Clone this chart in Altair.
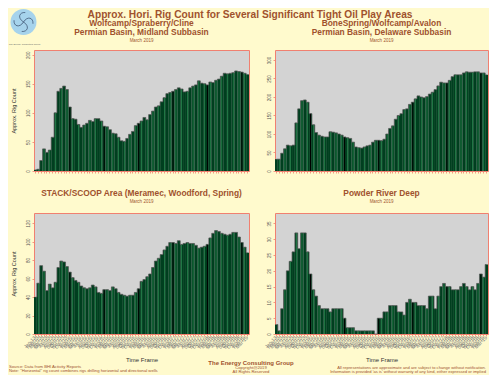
import altair as alt
import pandas as pd

FONT = "Liberation Sans"
BROWN = "#A0522D"
DARK = "#003F1F"
LIGHT = "#2F8F55"
RED = "#F08070"

MONTH_NAMES = ["Jan", "Feb", "Mar", "Apr", "May", "Jun", "Jul", "Aug", "Sep", "Oct", "Nov", "Dec"]
YEARS = ["13", "14", "15", "16", "17", "18", "19"]
MONTHS = [f"{m}-{y}" for y in YEARS for m in MONTH_NAMES][:75]

WOLFCAMP_MIDLAND = [2, 3, 18, 38, 32, 36, 58, 100, 137, 142,
                    146, 140, 110, 90, 89, 80, 75, 79, 82, 87,
                    85, 90, 90, 86, 77, 76, 71, 65, 64, 58,
                    52, 51, 56, 63, 68, 78, 82, 86, 92, 88,
                    97, 103, 110, 112, 119, 126, 133, 135, 137, 140,
                    143, 141, 136, 137, 143, 146, 148, 155, 151, 150,
                    148, 153, 152, 156, 158, 163, 168, 167, 168, 169,
                    172, 171, 170, 168, 166]
BONESPRING_DELAWARE = [32, 32, 48, 60, 70, 68, 70, 130, 168, 190,
                       192, 186, 155, 125, 104, 97, 94, 92, 92, 106,
                       105, 103, 100, 97, 92, 90, 88, 78, 65, 63,
                       62, 65, 68, 70, 78, 83, 83, 82, 86, 100,
                       115, 122, 140, 150, 155, 166, 168, 180, 186, 195,
                       203, 200, 198, 201, 208, 213, 220, 230, 240, 238,
                       238, 245, 255, 260, 260, 260, 265, 268, 267, 267,
                       268, 268, 265, 265, 260]
STACK_SCOOP = [40, 55, 74, 68, 47, 54, 50, 56, 72, 79,
               78, 73, 67, 61, 58, 56, 52, 50, 49, 50,
               53, 51, 45, 44, 48, 48, 47, 51, 49, 45,
               43, 42, 41, 42, 42, 45, 49, 57, 59, 62,
               65, 72, 79, 82, 86, 91, 95, 99, 99, 98,
               101, 97, 98, 99, 98, 98, 96, 93, 94, 95,
               97, 104, 109, 112, 111, 109, 108, 107, 108, 110,
               110, 105, 99, 94, 88]
POWDER_RIVER = [3, 1, 8, 14, 20, 23, 26, 32, 27, 32,
                32, 26, 19, 14, 12, 9, 8, 8, 8, 7,
                8, 8, 8, 8, 5, 2, 2, 2, 1, 1,
                1, 1, 1, 1, 1, 0, 5, 5, 7, 7,
                9, 9, 9, 7, 7, 6, 10, 11, 10, 10,
                9, 9, 9, 8, 12, 12, 8, 12, 15, 16,
                15, 15, 14, 14, 14, 15, 16, 15, 14, 15,
                14, 16, 19, 18, 22]

Y_TICKS_1 = [0, 50, 100, 150, 200]
Y_TICKS_2 = [0, 50, 100, 150, 200, 250, 300]
Y_TICKS_3 = [0, 20, 40, 60, 80, 100, 120]
Y_TICKS_4 = [0, 5, 10, 15, 20, 25, 30, 35]

MAIN_TITLE = "Approx. Hori. Rig Count for Several Significant Tight Oil Play Areas"
DATE_NOTE = "March 2019"
P1_TITLE = ["Wolfcamp/Spraberry/Cline", "Permian Basin, Midland Subbasin"]
P2_TITLE = ["BoneSpring/Wolfcamp/Avalon", "Permian Basin, Delaware Subbasin"]
P3_TITLE = "STACK/SCOOP Area (Meramec, Woodford, Spring)"
P4_TITLE = "Powder River Deep"
COMPANY = "The Energy Consulting Group"
SOURCE = "Source: Data from BHI Activity Reports"
NOTE = "Note: \"Horizontal\" rig count combines rigs drilling horizontal and directional wells"
COPYRIGHT = "Copyright@2019"
RIGHTS = "All Rights Reserved"
DISCLAIMER_1 = "All representations are approximate and are subject to change without notification."
DISCLAIMER_2 = "Information is provided 'as is' without warranty of any kind, either expressed or implied"

H = 121
SWIRL = ("M0,0 C0.35,-0.55 0.85,-0.35 0.8,0.15 M0,0 C-0.35,0.55 -0.85,0.35 -0.8,-0.15 "
         "M0,0 C0.55,0.35 0.35,0.85 -0.15,0.8 M0,0 C-0.55,-0.35 -0.35,-0.85 0.15,-0.8")


def label(text, x, y, size, weight="normal", align="center", color=BROWN):
    return alt.Chart(pd.DataFrame({"label": [text]})).mark_text(
        fontSize=size, fontWeight=weight, align=align, baseline="middle",
        color=color, font=FONT
    ).encode(x=alt.value(x), y=alt.value(y), text="label:N")


def panel(values, width, ymax, yticks, left, bottom, extras):
    df = pd.DataFrame({"month": MONTHS, "idx": list(range(len(MONTHS))), "rigs": values})
    if bottom:
        xaxis = alt.Axis(title="Time Frame", labelAngle=315, labelAlign="right",
                         labelBaseline="middle", labelFontSize=4.8, labelColor="#777777",
                         labelOverlap=False, labelPadding=1, tickSize=2,
                         titleFontSize=6, titleColor="#333333", titleFontWeight="normal",
                         titlePadding=4.5, minExtent=18, maxExtent=18)
    else:
        xaxis = alt.Axis(labels=False, title=None, tickSize=2)
    if left:
        yaxis = alt.Axis(values=yticks, title="Approx. Rig Count", labelAngle=270,
                         labelAlign="center", labelBaseline="bottom", labelFontSize=4.5,
                         labelColor="#555555", labelPadding=1.5, tickSize=2,
                         titleFontSize=5.5, titleColor="#333333", titleFontWeight="normal",
                         titlePadding=9.5, minExtent=8, maxExtent=8)
    else:
        yaxis = alt.Axis(values=yticks, title=None, labelAngle=270,
                         labelAlign="center", labelBaseline="bottom", labelFontSize=4.5,
                         labelColor="#555555", labelPadding=1.5, tickSize=2,
                         minExtent=8, maxExtent=8)
    xenc = alt.X("month:N", sort=MONTHS, axis=xaxis,
                 scale=alt.Scale(paddingInner=0, paddingOuter=0))
    yenc = alt.Y("rigs:Q", axis=yaxis, scale=alt.Scale(domain=[0, ymax], nice=False))
    base = alt.Chart(df)
    bars = base.mark_bar(color=DARK).encode(x=xenc, y=yenc)
    stripes = base.transform_filter("datum.idx % 2 == 1 && datum.idx % 12 != 0").mark_bar(
        color=LIGHT, size=0.7).encode(x=xenc, y=yenc)
    years = base.transform_filter("datum.idx % 12 == 0 && datum.idx > 0").mark_bar(
        color="#000000", size=1).encode(x=xenc, y=yenc)
    outline = base.mark_line(interpolate="step", color="#555555", strokeWidth=0.7).encode(
        x=xenc, y=yenc)
    return alt.layer(bars, stripes, years, outline, *extras).properties(width=width, height=H)


W1, W2 = 215, 213

logo = alt.Chart(pd.DataFrame({"label": [COMPANY]})).mark_point(
    shape="circle", filled=True, size=676, color="#A6D3EC", opacity=1
).encode(x=alt.value(-10.5), y=alt.value(-28))
swirl = alt.Chart(pd.DataFrame({"label": [COMPANY]})).mark_point(
    shape=SWIRL, filled=False, size=560, color="#203050", strokeWidth=0.6, opacity=1
).encode(x=alt.value(-10.5), y=alt.value(-28))

p1_extras = [
    logo, swirl,
    label(COMPANY, -9.5, -6.3, 2.4, color="#666666"),
    label(MAIN_TITLE, 216, -35.5, 10.2, weight="bold"),
    label(P1_TITLE[0], W1 / 2, -27, 8.4, weight="bold"),
    label(P1_TITLE[1], W1 / 2, -18, 8.4, weight="bold"),
    label(DATE_NOTE, W1 / 2, -9.5, 4.5),
]
p2_extras = [
    label(P2_TITLE[0], W2 / 2, -27, 8.4, weight="bold"),
    label(P2_TITLE[1], W2 / 2, -18, 8.4, weight="bold"),
    label(DATE_NOTE, W2 / 2, -9.5, 4.5),
]
p3_extras = [
    label(P3_TITLE, W1 / 2, -20.5, 8.4, weight="bold"),
    label(DATE_NOTE, W1 / 2, -11, 4.5),
    label(SOURCE, -25, 153.5, 4.2, align="left"),
    label(NOTE, -25, 157.8, 4.2, align="left"),
    label(COMPANY, 217, 149.5, 6, weight="bold"),
    label(COPYRIGHT, 217, 154.5, 4.2),
    label(RIGHTS, 217, 158.5, 4.2),
]
p4_extras = [
    label(P4_TITLE, W2 / 2, -20.5, 8.4, weight="bold"),
    label(DATE_NOTE, W2 / 2, -11, 4.5),
    label(DISCLAIMER_1, 211, 154.5, 4.1, align="right"),
    label(DISCLAIMER_2, 211, 158.5, 4.1, align="right"),
]

p1 = panel(WOLFCAMP_MIDLAND, W1, 208, Y_TICKS_1, True, False, p1_extras)
p2 = panel(BONESPRING_DELAWARE, W2, 327, Y_TICKS_2, False, False, p2_extras)
p3 = panel(STACK_SCOOP, W1, 131, Y_TICKS_3, True, True, p3_extras)
p4 = panel(POWDER_RIVER, W2, 38.3, Y_TICKS_4, False, True, p4_extras)

chart = alt.concat(
    p1, p2, p3, p4, columns=2,
    spacing=alt.RowColnumber(row=42, column=26), bounds="flush"
).properties(padding=0).configure(
    font=FONT, background="#FFFACD"
).configure_view(
    fill="#D3D3D3", stroke=RED, strokeWidth=1
).configure_axis(
    grid=False, domain=False, tickColor=RED, tickWidth=0.8,
    labelFont=FONT, titleFont=FONT
)

chart.save("out.html", embed_options={"renderer": "svg", "actions": False})
